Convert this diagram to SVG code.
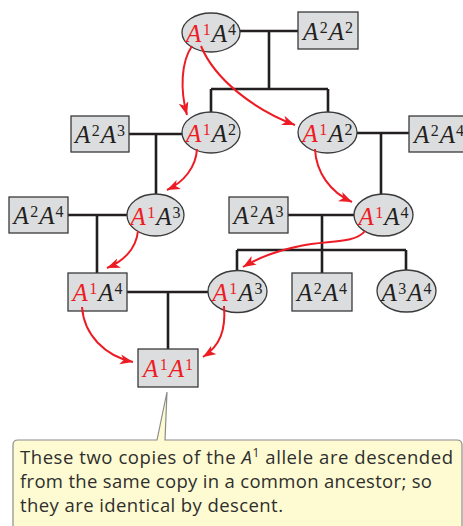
<svg xmlns="http://www.w3.org/2000/svg" width="463" height="526" viewBox="0 0 463 526">
<style>
.node{fill:#dcdddf;stroke:#3a3a3a;stroke-width:1.3}
.ln{fill:none;stroke:#231f20;stroke-width:2.6}
.arr{fill:none;stroke:#ed1c24;stroke-width:2;marker-end:url(#ah)}
.lbl{font-family:"Liberation Serif","Times New Roman",serif;font-size:25px;text-anchor:middle;fill:#231f20}
.a{font-style:italic}
.s{font-size:16px}
.r{fill:#ed1c24}
.callout{fill:#fefbd2;stroke:#8c8c8c;stroke-width:1.2}
.ct{font-family:"Open Sans","Noto Sans",sans-serif;font-size:18.5px;fill:#2e2e2e}
.cs{font-size:12px}
</style>
<defs>
<marker id="ah" markerUnits="userSpaceOnUse" markerWidth="14" markerHeight="11" refX="13" refY="5" orient="auto">
<path d="M0,0 L13,5 L0,10 L3.5,5 z" fill="#ed1c24"/>
</marker>
</defs>
<g id="connectors">
<path class="ln" d="M240,31 H298 M269,31 V89 M211,89 H328 M211,89 V112 M328,89 V112"/>
<path class="ln" d="M129,134 H182 M156,134 V194"/>
<path class="ln" d="M357,133 H409 M381,133 V194"/>
<path class="ln" d="M68,215 H127 M97,215 V273"/>
<path class="ln" d="M288,215 H354 M322,215 V250 M237,250 H406 M237,250 V270 M322,250 V273 M406,250 V270"/>
<path class="ln" d="M127,292 H208 M168,292 V349"/>
</g>
<g id="n-top-a1a4">
<ellipse class="node" cx="211" cy="32.5" rx="29" ry="19.5"/>
<text class="lbl" x="211" y="42"><tspan class="a r">A</tspan><tspan class="s r" dx="1.5" dy="-7">1</tspan><tspan class="a" dx="1" dy="7">A</tspan><tspan class="s" dx="1" dy="-7">4</tspan></text>
</g>
<g id="n-top-a2a2">
<rect class="node" x="298" y="12" width="60" height="37"/>
<text class="lbl" x="328" y="40"><tspan class="a">A</tspan><tspan class="s" dx="1.5" dy="-7">2</tspan><tspan class="a" dx="1" dy="7">A</tspan><tspan class="s" dx="1" dy="-7">2</tspan></text>
</g>
<g id="n-g2-a2a3">
<rect class="node" x="71" y="116" width="58" height="36"/>
<text class="lbl" x="100" y="143"><tspan class="a">A</tspan><tspan class="s" dx="1.5" dy="-7">2</tspan><tspan class="a" dx="1" dy="7">A</tspan><tspan class="s" dx="1" dy="-7">3</tspan></text>
</g>
<g id="n-g2-left-a1a2">
<ellipse class="node" cx="211" cy="132.5" rx="29" ry="20.5"/>
<text class="lbl" x="211" y="142"><tspan class="a r">A</tspan><tspan class="s r" dx="1.5" dy="-7">1</tspan><tspan class="a" dx="1" dy="7">A</tspan><tspan class="s" dx="1" dy="-7">2</tspan></text>
</g>
<g id="n-g2-right-a1a2">
<ellipse class="node" cx="327.5" cy="132.5" rx="29.5" ry="20.5"/>
<text class="lbl" x="327.5" y="142"><tspan class="a r">A</tspan><tspan class="s r" dx="1.5" dy="-7">1</tspan><tspan class="a" dx="1" dy="7">A</tspan><tspan class="s" dx="1" dy="-7">2</tspan></text>
</g>
<g id="n-g2-a2a4">
<rect class="node" x="409" y="116" width="60" height="36"/>
<text class="lbl" x="439" y="143"><tspan class="a">A</tspan><tspan class="s" dx="1.5" dy="-7">2</tspan><tspan class="a" dx="1" dy="7">A</tspan><tspan class="s" dx="1" dy="-7">4</tspan></text>
</g>
<g id="n-g3-a2a4">
<rect class="node" x="9" y="197" width="59" height="36"/>
<text class="lbl" x="38.5" y="224"><tspan class="a">A</tspan><tspan class="s" dx="1.5" dy="-7">2</tspan><tspan class="a" dx="1" dy="7">A</tspan><tspan class="s" dx="1" dy="-7">4</tspan></text>
</g>
<g id="n-g3-a1a3">
<ellipse class="node" cx="155.5" cy="215" rx="28.5" ry="21"/>
<text class="lbl" x="155.5" y="224.5"><tspan class="a r">A</tspan><tspan class="s r" dx="1.5" dy="-7">1</tspan><tspan class="a" dx="1" dy="7">A</tspan><tspan class="s" dx="1" dy="-7">3</tspan></text>
</g>
<g id="n-g3-a2a3">
<rect class="node" x="229" y="197" width="59" height="36"/>
<text class="lbl" x="258.5" y="224"><tspan class="a">A</tspan><tspan class="s" dx="1.5" dy="-7">2</tspan><tspan class="a" dx="1" dy="7">A</tspan><tspan class="s" dx="1" dy="-7">3</tspan></text>
</g>
<g id="n-g3-a1a4">
<ellipse class="node" cx="383.5" cy="215" rx="29.5" ry="21"/>
<text class="lbl" x="383.5" y="224.5"><tspan class="a r">A</tspan><tspan class="s r" dx="1.5" dy="-7">1</tspan><tspan class="a" dx="1" dy="7">A</tspan><tspan class="s" dx="1" dy="-7">4</tspan></text>
</g>
<g id="n-g4-a1a4">
<rect class="node" x="68" y="273" width="59" height="38"/>
<text class="lbl" x="97.5" y="301"><tspan class="a r">A</tspan><tspan class="s r" dx="1.5" dy="-7">1</tspan><tspan class="a" dx="1" dy="7">A</tspan><tspan class="s" dx="1" dy="-7">4</tspan></text>
</g>
<g id="n-g4-a1a3">
<ellipse class="node" cx="237.5" cy="291.5" rx="29.5" ry="21"/>
<text class="lbl" x="237.5" y="301"><tspan class="a r">A</tspan><tspan class="s r" dx="1.5" dy="-7">1</tspan><tspan class="a" dx="1" dy="7">A</tspan><tspan class="s" dx="1" dy="-7">3</tspan></text>
</g>
<g id="n-g4-a2a4">
<rect class="node" x="292" y="273" width="60" height="38"/>
<text class="lbl" x="322" y="301"><tspan class="a">A</tspan><tspan class="s" dx="1.5" dy="-7">2</tspan><tspan class="a" dx="1" dy="7">A</tspan><tspan class="s" dx="1" dy="-7">4</tspan></text>
</g>
<g id="n-g4-a3a4">
<ellipse class="node" cx="406.5" cy="291" rx="29.5" ry="21"/>
<text class="lbl" x="406.5" y="300.5"><tspan class="a">A</tspan><tspan class="s" dx="1.5" dy="-7">3</tspan><tspan class="a" dx="1" dy="7">A</tspan><tspan class="s" dx="1" dy="-7">4</tspan></text>
</g>
<g id="n-g5-a1a1">
<rect class="node" x="138" y="349" width="60" height="38"/>
<text class="lbl" x="168" y="377"><tspan class="a r">A</tspan><tspan class="s r" dx="1.5" dy="-7">1</tspan><tspan class="a r" dx="1" dy="7">A</tspan><tspan class="s r" dx="1" dy="-7">1</tspan></text>
</g>
<g id="arrows">
<path class="arr" d="M192,46 C181,62 180,90 187,115"/>
<path class="arr" d="M201,46 C215,80 255,110 295,125"/>
<path class="arr" d="M197,149 C196,167 184,182 167,190"/>
<path class="arr" d="M138,231 C136,250 122,262 107,268"/>
<path class="arr" d="M315,149 C316,172 330,192 352,202"/>
<path class="arr" d="M365,231 C355,244 325,240 300,246 C275,251 258,258 243,267"/>
<path class="arr" d="M82,307 C84,335 105,356 133,362"/>
<path class="arr" d="M224,306 C226,330 220,346 203,357"/>
</g>
<g id="callout">
<path class="callout" d="M18,440 L157,440 L167,392 L165,440 L457,440 Q462,440 462,445 L462,532 L13,532 L13,445 Q13,440 18,440 Z"/>
<text class="ct" x="20" y="464" textLength="433" lengthAdjust="spacing">These two copies of the <tspan font-style="italic">A</tspan><tspan class="cs" dy="-7">1</tspan><tspan dy="7"> allele are descended</tspan></text>
<text class="ct" x="20" y="488" textLength="412" lengthAdjust="spacing">from the same copy in a common ancestor; so</text>
<text class="ct" x="20" y="512" textLength="263" lengthAdjust="spacing">they are identical by descent.</text>
</g>
</svg>
